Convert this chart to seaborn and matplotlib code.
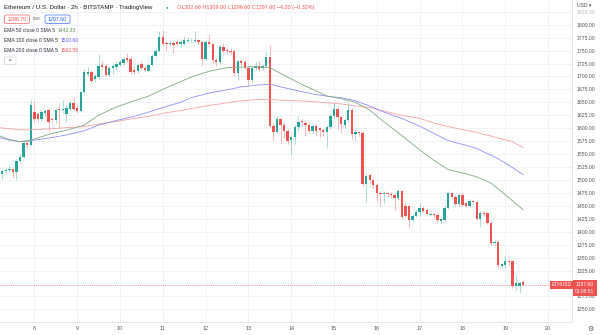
import numpy as np
import pandas as pd
import matplotlib
matplotlib.use("Agg")
import matplotlib.pyplot as plt
from matplotlib.patches import FancyBboxPatch
import seaborn as sns

# ETH/USD, 2h candles, Bitstamp
START = "2022-09-07 06:00"

opens = [1512, 1517, 1520, 1521, 1515, 1537, 1545, 1571, 1568, 1632,
         1628, 1617, 1629, 1636, 1618, 1615, 1637, 1635, 1628, 1638,
         1648, 1640, 1634, 1670, 1705, 1708, 1695, 1698, 1722, 1720,
         1702, 1717, 1719, 1723, 1726, 1735, 1733, 1712, 1710, 1724,
         1716, 1711, 1723, 1740, 1750, 1776, 1764, 1762, 1765, 1766,
         1762, 1763, 1769, 1770, 1769, 1771, 1766, 1734, 1766, 1762,
         1731, 1728, 1757, 1751, 1750, 1749, 1706, 1729, 1728, 1717,
         1694, 1716, 1720, 1716, 1720, 1737, 1604, 1593, 1618, 1606,
         1595, 1577, 1583, 1603, 1614, 1610, 1606, 1595, 1604, 1601,
         1597, 1592, 1602, 1623, 1638, 1622, 1606, 1616, 1636, 1588,
         1592, 1590, 1492, 1510, 1500, 1490, 1475, 1472, 1474, 1473,
         1471, 1465, 1479, 1450, 1450, 1422, 1430, 1439, 1446, 1442,
         1432, 1434, 1433, 1421, 1423, 1446, 1474, 1468, 1454, 1471,
         1455, 1450, 1460, 1458, 1425, 1437, 1436, 1417, 1378, 1381,
         1334, 1335, 1343, 1343, 1296, 1295, 1302.6]
highs = [1520, 1524, 1527, 1524, 1540, 1550, 1574, 1578, 1655, 1652,
         1632, 1636, 1638, 1640, 1620, 1640, 1648, 1655, 1645, 1655,
         1661, 1645, 1672, 1715, 1718, 1712, 1705, 1743, 1730, 1724,
         1720, 1725, 1730, 1732, 1738, 1745, 1740, 1720, 1726, 1730,
         1720, 1726, 1744, 1755, 1788, 1790, 1768, 1770, 1770, 1770,
         1772, 1778, 1776, 1775, 1787, 1773, 1768, 1770, 1782, 1765,
         1735, 1762, 1765, 1755, 1754, 1752, 1732, 1733, 1731, 1720,
         1720, 1728, 1730, 1724, 1747, 1760, 1610, 1623, 1620, 1612,
         1598, 1585, 1606, 1624, 1618, 1613, 1610, 1608, 1608, 1603,
         1600, 1606, 1627, 1650, 1642, 1624, 1620, 1650, 1640, 1596,
         1594, 1594, 1512, 1514, 1502, 1494, 1478, 1478, 1476, 1477,
         1474, 1482, 1481, 1456, 1452, 1434, 1443, 1456, 1449, 1446,
         1437, 1436, 1436, 1427, 1449, 1478, 1476, 1470, 1474, 1474,
         1458, 1463, 1462, 1460, 1440, 1440, 1438, 1420, 1384, 1384,
         1340, 1356, 1346, 1346, 1315, 1305, 1309.0]
lows = [1501, 1512, 1516, 1503, 1502, 1533, 1543, 1562, 1566, 1612,
        1613, 1614, 1624, 1595, 1611, 1610, 1600, 1630, 1612, 1634,
        1635, 1630, 1632, 1668, 1700, 1688, 1690, 1695, 1715, 1700,
        1700, 1705, 1715, 1720, 1722, 1728, 1705, 1705, 1706, 1712,
        1710, 1708, 1720, 1737, 1748, 1758, 1750, 1758, 1745, 1758,
        1756, 1760, 1766, 1767, 1766, 1762, 1723, 1732, 1758, 1728,
        1720, 1725, 1745, 1745, 1744, 1700, 1694, 1720, 1712, 1681,
        1690, 1712, 1711, 1712, 1717, 1600, 1576, 1590, 1570, 1582,
        1570, 1551, 1570, 1595, 1605, 1585, 1590, 1590, 1585, 1583,
        1584, 1563, 1598, 1618, 1598, 1590, 1600, 1612, 1580, 1575,
        1585, 1488, 1458, 1495, 1485, 1460, 1449, 1455, 1468, 1466,
        1442, 1462, 1424, 1426, 1407, 1418, 1428, 1430, 1437, 1430,
        1430, 1429, 1418, 1414, 1420, 1443, 1464, 1450, 1450, 1449,
        1446, 1447, 1454, 1423, 1410, 1430, 1414, 1375, 1372, 1330,
        1330, 1330, 1336, 1292, 1288, 1282, 1296.6]
closes = [1517, 1520, 1521, 1515, 1537, 1545, 1571, 1568, 1644, 1617,
          1617, 1631, 1634, 1612, 1615, 1636, 1635, 1638, 1640, 1649,
          1638, 1634, 1670, 1708, 1708, 1692, 1700, 1720, 1719, 1702,
          1717, 1720, 1724, 1727, 1734, 1732, 1708, 1709, 1722, 1716,
          1713, 1723, 1740, 1750, 1776, 1763, 1762, 1765, 1760, 1763,
          1766, 1770, 1770, 1771, 1771, 1766, 1734, 1766, 1762, 1731,
          1727, 1757, 1750, 1749, 1748, 1706, 1729, 1726, 1717, 1694,
          1716, 1720, 1715, 1720, 1737, 1604, 1593, 1618, 1606, 1595,
          1576, 1583, 1603, 1612, 1612, 1606, 1595, 1604, 1595, 1597,
          1592, 1602, 1623, 1638, 1622, 1609, 1616, 1636, 1588, 1592,
          1590, 1492, 1508, 1500, 1490, 1474, 1472, 1474, 1472, 1471,
          1465, 1478, 1429, 1430, 1422, 1430, 1439, 1446, 1441, 1435,
          1434, 1432, 1422, 1424, 1446, 1474, 1468, 1454, 1471, 1452,
          1450, 1460, 1458, 1425, 1436, 1434, 1417, 1378, 1381, 1335,
          1337, 1343, 1341, 1296, 1300, 1301.8, 1297.6]

# Moving averages sampled along the session
ema_times = ["2022-09-07 04:00", "2022-09-07 10:00", "2022-09-07 16:00", "2022-09-07 22:00",
             "2022-09-08 10:00", "2022-09-08 18:00", "2022-09-09 04:00", "2022-09-09 12:00",
             "2022-09-09 22:00", "2022-09-10 08:00", "2022-09-10 16:00", "2022-09-11 02:00",
             "2022-09-11 10:00", "2022-09-11 16:00", "2022-09-12 02:00", "2022-09-12 12:00",
             "2022-09-12 20:00", "2022-09-13 04:00", "2022-09-13 12:00", "2022-09-13 18:00",
             "2022-09-14 04:00", "2022-09-14 14:00", "2022-09-14 20:00", "2022-09-15 00:00",
             "2022-09-15 04:00", "2022-09-15 12:00", "2022-09-15 20:00", "2022-09-16 04:00",
             "2022-09-16 14:00", "2022-09-17 00:00", "2022-09-17 08:00", "2022-09-17 16:00",
             "2022-09-18 02:00", "2022-09-18 08:00", "2022-09-18 12:00", "2022-09-18 16:00",
             "2022-09-18 20:00", "2022-09-19 04:00", "2022-09-19 10:00"]
ema50 = [1586, 1578, 1574, 1577, 1590, 1596, 1606, 1625, 1641, 1653, 1662, 1678, 1690,
         1699, 1710, 1717, 1718, 1719, 1717, 1706, 1688, 1672, 1662, 1660, 1657, 1650,
         1635, 1612, 1586, 1558, 1538, 1520, 1512, 1506, 1500, 1494, 1483, 1460, 1442.33]
ema100 = [1582, 1577, 1574, 1576, 1582, 1587, 1595, 1606, 1615, 1623, 1631, 1642, 1650,
          1659, 1668, 1674, 1680, 1683, 1685, 1680, 1672, 1665, 1662, 1660, 1659, 1653,
          1643, 1631, 1619, 1604, 1590, 1576, 1567, 1561, 1554, 1548, 1541, 1524, 1510.60]
ema200 = [1601, 1599, 1597, 1597, 1599, 1601, 1603, 1608, 1613, 1619, 1623, 1630, 1634,
          1638, 1644, 1649, 1653, 1655, 1656, 1654, 1653, 1651, 1649, 1648, 1647, 1643,
          1640, 1633, 1625, 1619, 1610, 1603, 1596, 1592, 1588, 1585, 1581, 1574, 1562.59]

# scale labels (the one under the last-price tag is left out)
price_ticks = [v for v in range(1250, 1826, 25) if v != 1300]
day_ticks = list(range(8, 21))
countdown = "01:08:51"
bid, ask = 1296.70, 1297.60

GREEN = "#26a69a"
RED = "#ef5350"
TEXT = "#50535e"

sns.set_theme(style="white")
plt.rcParams["font.family"] = ["Liberation Sans", "DejaVu Sans"]

W, H = 602, 335
fig = plt.figure(figsize=(W / 100, H / 100), dpi=100)
ax = fig.add_axes([0, 13 / H, 572 / W, 322 / H])


def px(x, y):
    return x / W, 1 - y / H


times = pd.date_range(START, periods=len(closes), freq="2h")
o = np.array(opens, dtype=float)
c = np.array(closes, dtype=float)
hi = np.array(highs, dtype=float)
lo = np.array(lows, dtype=float)
cols = np.where(c >= o, GREEN, RED)

# candle wicks and bodies
ax.vlines(times, lo, hi, colors=cols, linewidth=0.55, alpha=0.5, zorder=2)
ax.bar(times, np.maximum(np.abs(c - o), 1.0), bottom=np.minimum(o, c),
       width=0.66 / 12, color=cols, linewidth=0, zorder=3)

# moving averages
et = pd.to_datetime(ema_times)
sns.lineplot(x=et, y=ema200, ax=ax, color="#f5a3a3", linewidth=0.6, zorder=4)
sns.lineplot(x=et, y=ema100, ax=ax, color="#9090f7", linewidth=0.6, zorder=4)
sns.lineplot(x=et, y=ema50, ax=ax, color="#7fab7f", linewidth=0.6, zorder=4)

step = pd.Timedelta(hours=2)
ax.set_xlim(times[0] - 0.62 * step, times[0] + 159.7 * step)
ax.set_ylim(1225.6, 1847.7)

# last price line
ax.axhline(c[-1], color=RED, linewidth=0.5, linestyle=(0, (1.5, 1.5)), alpha=0.8, zorder=1)

ax.set_yticks(price_ticks)
ax.set_yticklabels([f"{v:.2f}" for v in price_ticks])
ax.yaxis.tick_right()
ax.tick_params(axis="y", length=0, pad=3.5, labelsize=3.7, labelcolor=TEXT)
ax.get_yticklabels()[-1].set_color("#b8bac2")
ax.set_xticks([pd.Timestamp(f"2022-09-{d:02d}") for d in day_ticks])
ax.set_xticklabels([str(d) for d in day_ticks])
ax.tick_params(axis="x", length=0, pad=2.8, labelsize=3.9, labelcolor=TEXT)
ax.set_xlabel("")
ax.set_ylabel("")
ax.grid(True, color="#eff1f6", linewidth=0.6)
ax.set_axisbelow(True)
for s in ("top", "left"):
    ax.spines[s].set_visible(False)
for s in ("right", "bottom"):
    ax.spines[s].set_color("#e0e3eb")
    ax.spines[s].set_linewidth(0.6)

# symbol tag and last-price tag
ax.text(0.999, c[-1], "ETHUSD", transform=ax.get_yaxis_transform(), ha="right", va="center",
        fontsize=3.5, color="white", zorder=6,
        bbox=dict(boxstyle="square,pad=0.35", fc=RED, ec="none"))
ax.annotate(f"{c[-1]:.2f}\n{countdown}", xy=(1.0, c[-1]), xycoords=ax.get_yaxis_transform(),
            xytext=(3.2, 2.4), textcoords="offset pixels", ha="left", va="top",
            fontsize=3.5, linespacing=1.3, color="white", annotation_clip=False,
            bbox=dict(boxstyle="square,pad=0.5", fc=RED, ec="none"))

# header
chg = c[-1] - c[-2]
fig.text(*px(4.5, 7.5), "Ethereum / U.S. Dollar · 2h · BITSTAMP · TradingView",
         fontsize=4.4, color="#131722", va="center", ha="left")
fig.text(*px(167, 7.0), "●", fontsize=3.2, color=GREEN, va="center", ha="center")
fig.text(*px(177, 7.5),
         f"O{o[-1]:.2f} H{hi[-1]:.2f} L{lo[-1]:.2f} C{c[-1]:.2f} "
         f"\u2212{abs(chg):.2f} (\u2212{abs(chg) / c[-2] * 100:.2f}%)",
         fontsize=3.9, color=RED, va="center", ha="left")

# bid / spread / ask boxes
for x0, x1, val, col in ((4.5, 29.5, bid, RED), (45, 70, ask, "#2962ff")):
    fig.patches.append(FancyBboxPatch(px(x0, 23.5), (x1 - x0) / W, 8.5 / H,
                                      boxstyle="round,pad=0,rounding_size=0.004",
                                      transform=fig.transFigure, fc="white", ec=col,
                                      lw=0.5, alpha=0.9))
    fig.text(*px((x0 + x1) / 2, 19.3), f"{val:.2f}", fontsize=3.8, color=col,
             ha="center", va="center")
fig.text(*px(37, 19.3), f"{ask - bid:.2f}", fontsize=2.8, color=TEXT, ha="center", va="center")

# indicator legend
rows = (("EMA 50 close 0 SMA 5", f"{ema50[-1]:.2f}", "#5b8f4f", 30.3, 58),
        ("EMA 100 close 0 SMA 5", f"{ema100[-1]:.2f}", "#5a5af2", 40.3, 61),
        ("EMA 200 close 0 SMA 5", f"{ema200[-1]:.2f}", "#f05555", 50.2, 61))
for label, val, col, y, xv in rows:
    fig.text(*px(4.5, y), label, fontsize=3.6, color="#2a2e39", ha="left", va="center")
    fig.text(*px(xv, y), val, fontsize=3.6, color=col, ha="left", va="center")
fig.patches.append(FancyBboxPatch(px(4.5, 64.5), 11.5 / W, 7.5 / H,
                                  boxstyle="round,pad=0,rounding_size=0.004",
                                  transform=fig.transFigure, fc="white", ec="#d1d4dc", lw=0.5))
fig.text(*px(10.2, 61.2), "^", fontsize=4, color="#131722", ha="center", va="center")

# price-scale header and settings icon
fig.text(*px(577, 5.5), "USD ▾", fontsize=3.6, color=TEXT, ha="left", va="center")
fig.text(*px(590, 328.5), "⚙", fontsize=5, color=TEXT, ha="center", va="center",
         family=["DejaVu Sans"])

fig.savefig("out.png", dpi=100, facecolor="white")
